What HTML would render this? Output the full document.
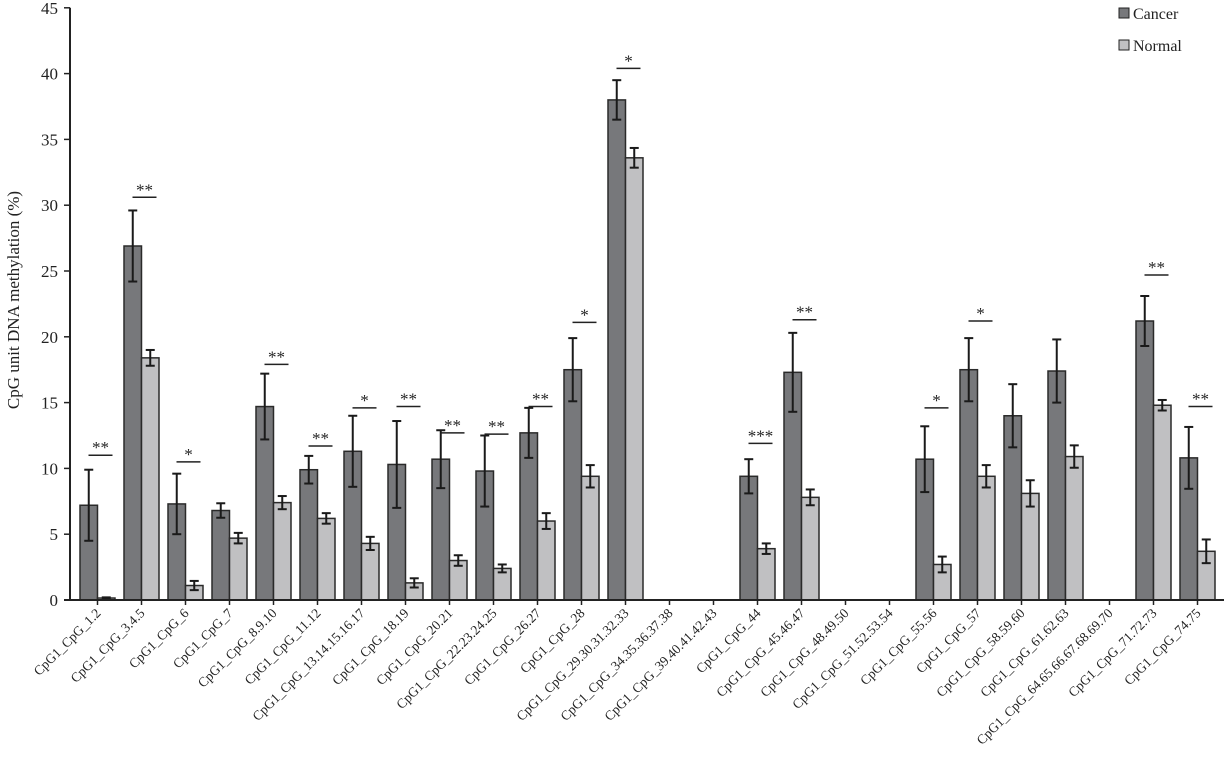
<!DOCTYPE html>
<html><head><meta charset="utf-8">
<style>
html,body{margin:0;padding:0;background:#fff;}
svg{display:block;font-family:"Liberation Serif",serif;}
</style></head>
<body>
<svg id="chart" width="1224" height="769" viewBox="0 0 1224 769" xmlns="http://www.w3.org/2000/svg">
<g id="yaxis"></g>
<g id="bars"></g>
<g id="sig"></g>
<g id="xaxis"></g>
<text transform="translate(19,300) rotate(-90)" text-anchor="middle" font-size="17" fill="#222">CpG unit DNA methylation  (%)</text>
<g>
<g><rect x="1119" y="8" width="10" height="10" fill="#77787b" stroke="#222" stroke-width="1"/><text x="1133" y="19" font-size="16" fill="#222">Cancer</text></g>
<g><rect x="1119" y="40" width="10" height="10" fill="#c0c0c2" stroke="#222" stroke-width="1"/><text x="1133" y="51" font-size="16" fill="#222">Normal</text></g>
</g>
</svg>
<script>
const categories=["CpG1_CpG_1.2","CpG1_CpG_3.4.5","CpG1_CpG_6","CpG1_CpG_7","CpG1_CpG_8.9.10","CpG1_CpG_11.12","CpG1_CpG_13.14.15.16.17","CpG1_CpG_18.19","CpG1_CpG_20.21","CpG1_CpG_22.23.24.25","CpG1_CpG_26.27","CpG1_CpG_28","CpG1_CpG_29.30.31.32.33","CpG1_CpG_34.35.36.37.38","CpG1_CpG_39.40.41.42.43","CpG1_CpG_44","CpG1_CpG_45.46.47","CpG1_CpG_48.49.50","CpG1_CpG_51.52.53.54","CpG1_CpG_55.56","CpG1_CpG_57","CpG1_CpG_58.59.60","CpG1_CpG_61.62.63","CpG1_CpG_64.65.66.67.68.69.70","CpG1_CpG_71.72.73","CpG1_CpG_74.75"];
const cancer=[7.2,26.9,7.3,6.8,14.7,9.9,11.3,10.3,10.7,9.8,12.7,17.5,38.0,null,null,9.4,17.3,null,null,10.7,17.5,14.0,17.4,null,21.2,10.8];
const cancerErr=[2.7,2.7,2.3,0.55,2.5,1.05,2.7,3.3,2.2,2.7,1.9,2.4,1.5,null,null,1.3,3.0,null,null,2.5,2.4,2.4,2.4,null,1.9,2.35];
const normal=[0.15,18.4,1.1,4.7,7.4,6.2,4.3,1.3,3.0,2.4,6.0,9.4,33.6,null,null,3.9,7.8,null,null,2.7,9.4,8.1,10.9,null,14.8,3.7];
const normalErr=[0.05,0.6,0.35,0.4,0.5,0.4,0.5,0.35,0.4,0.3,0.6,0.85,0.75,null,null,0.4,0.6,null,null,0.6,0.85,1.0,0.85,null,0.4,0.9];
const sigStars=["**","**","*","","**","**","*","**","**","**","**","*","*","","","***","**","","","*","*","","","","**","**"];
const sigLevel=[11.0,30.6,10.5,null,17.9,11.7,14.6,14.7,12.7,12.6,14.7,21.1,40.4,null,null,11.9,21.3,null,null,14.6,21.2,null,null,null,24.7,14.7];
const yTicks=[0,5,10,15,20,25,30,35,40,45];

const NS="http://www.w3.org/2000/svg";
const X0=70,Y0=600,PXU=13.16,STEP=44,BW=17.5;
function y(v){return Y0-v*PXU;}
function xc(i){return X0+27.5+STEP*i;}
function mk(tag,attrs,parent){const e=document.createElementNS(NS,tag);for(const k in attrs)e.setAttribute(k,attrs[k]);parent.appendChild(e);return e;}
const gy=document.getElementById('yaxis'),gb=document.getElementById('bars'),gs=document.getElementById('sig'),gx=document.getElementById('xaxis');
// y axis
let ax=mk('line',{x1:X0,y1:y(45),x2:X0,y2:Y0,stroke:'#222','stroke-width':2},gy);


yTicks.forEach(t=>{
 let l=mk('line',{x1:X0-6,y1:y(t),x2:X0,y2:y(t),stroke:'#222','stroke-width':1.5},gy);
 
 
 let tx=mk('text',{x:X0-12,y:y(t)+6,'text-anchor':'end','font-size':17,fill:'#222'},gy);
 tx.textContent=t;
 
 
});
let xa=mk('line',{x1:X0-6,y1:Y0,x2:1224,y2:Y0,stroke:'#222','stroke-width':2},gx);


function errBar(cx,v,e,parent){
 const g=mk('g',{stroke:'#1a1a1a','stroke-width':2},parent);
 
 
 mk('line',{x1:cx,y1:y(v-e),x2:cx,y2:y(v+e)},g);
 mk('line',{x1:cx-4.5,y1:y(v+e),x2:cx+4.5,y2:y(v+e)},g);
 mk('line',{x1:cx-4.5,y1:y(v-e),x2:cx+4.5,y2:y(v-e)},g);
}
categories.forEach((c,i)=>{
 const cx=xc(i);
 let tk=mk('line',{x1:cx,y1:Y0,x2:cx,y2:Y0+5,stroke:'#222','stroke-width':1.5},gx);
 
 
 let lb=mk('text',{transform:`translate(${cx+4},${Y0+14}) rotate(-45)`,'text-anchor':'end','font-size':13.5,fill:'#222'},gx);
 lb.textContent=c;
 
 
 if(cancer[i]!=null){
  let r=mk('rect',{x:cx-BW,y:y(cancer[i]),width:BW,height:cancer[i]*PXU,fill:'#77787b',stroke:'#2a2a2a','stroke-width':1.5},gb);
  
  
  errBar(cx-BW/2,cancer[i],cancerErr[i],gb);
 }
 if(normal[i]!=null){
  let r=mk('rect',{x:cx,y:y(normal[i]),width:BW,height:normal[i]*PXU,fill:'#c0c0c2',stroke:'#2a2a2a','stroke-width':1.5},gb);
  
  
  errBar(cx+BW/2,normal[i],normalErr[i],gb);
 }
 if(sigStars[i]&&sigLevel[i]!=null){
  let l=mk('line',{x1:cx-9,y1:y(sigLevel[i]),x2:cx+15,y2:y(sigLevel[i]),stroke:'#222','stroke-width':1.5},gs);
  
  
  let s=mk('text',{x:cx+3,y:y(sigLevel[i])-2,'text-anchor':'middle','font-size':17,fill:'#222'},gs);
  s.textContent=sigStars[i];
  
  
 }
});
</script>
</body></html>
